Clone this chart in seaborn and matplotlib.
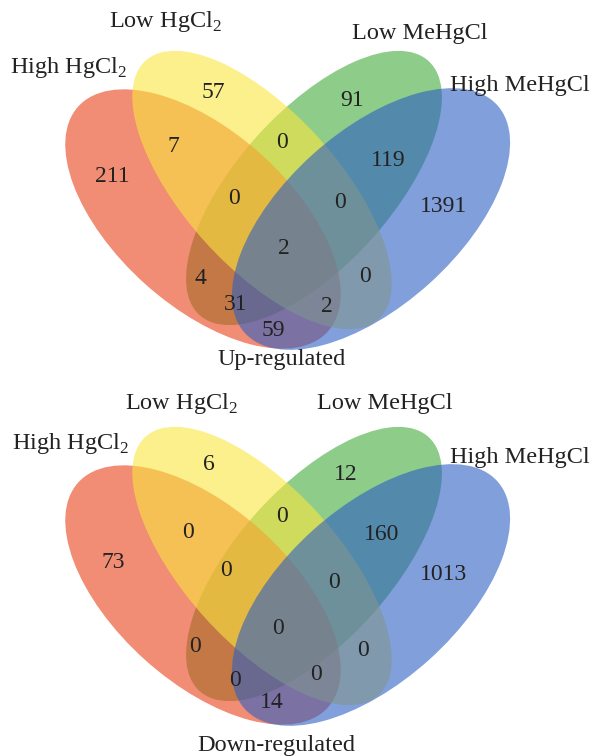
import matplotlib
matplotlib.use("Agg")
import matplotlib.pyplot as plt
from matplotlib.patches import Ellipse
import seaborn as sns

# sets: A = High HgCl2, B = Low HgCl2, C = Low MeHgCl, D = High MeHgCl
set_names = ["High HgCl$_2$", "Low HgCl$_2$", "Low MeHgCl", "High MeHgCl"]
regions = ["A", "B", "C", "D", "AB", "BC", "CD", "ABC", "BCD", "ABCD",
           "AC", "BD", "ACD", "ABD", "AD"]

up_counts = [211, 57, 91, 1391, 7, 0, 119, 0, 0, 2, 4, 0, 31, 2, 59]
down_counts = [73, 6, 12, 1013, 0, 0, 160, 0, 0, 0, 0, 0, 0, 0, 14]

# ---- layout (panel pixel coords, y down) ----
# drawn in this order: green, red, yellow, blue
ellipses = {  # cx, cy, width, height, angle
    "C": (314, 188, 342, 154, -48),
    "A": (203, 219, 336, 174, 42),
    "B": (262, 190, 348, 154, 48),
    "D": (371, 219, 340, 174, -42),
}
colors = {"A": "#e9401a", "B": "#fae63f", "C": "#43aa3c", "D": "#2d5fc3"}

up_pos = {"A": (112, 177), "B": (213, 92), "C": (352, 100), "D": (444, 207),
          "AB": (173, 147), "BC": (282, 143), "CD": (388, 160),
          "ABC": (234, 198), "BCD": (340, 202), "ABCD": (284, 248),
          "AC": (200, 278), "BD": (365, 276), "ACD": (236, 304),
          "ABD": (327, 306), "AD": (273, 330)}
down_pos = {"A": (113, 184), "B": (209, 87), "C": (346, 97), "D": (444, 197),
            "AB": (188, 155), "BC": (282, 138), "CD": (382, 156),
            "ABC": (226, 193), "BCD": (334, 205), "ABCD": (278, 250),
            "AC": (195, 268), "BD": (363, 273), "ACD": (235, 302),
            "ABD": (316, 297), "AD": (272, 325)}

up_labels = [(68, 67), (165, 22), (420, 33), (520, 85)]
down_labels = [(70, 65), (181, 25), (385, 25), (520, 80)]

sns.set_theme(style="white")
plt.rcParams["font.family"] = ["Liberation Serif", "DejaVu Serif"]
plt.rcParams["mathtext.fontset"] = "custom"
plt.rcParams["mathtext.rm"] = "Liberation Serif"

fig = plt.figure(figsize=(5.93, 7.56), dpi=100)
ax_up = fig.add_axes([0, 0.5, 1, 0.5])
ax_down = fig.add_axes([0, 0, 1, 0.5])


def draw_venn(ax, counts, pos, label_pos, title, title_xy, dy=0):
    ax.set_xlim(0, 593)
    ax.set_ylim(378, 0)
    ax.set_aspect("equal")
    ax.axis("off")
    for key, (cx, cy, w, h, ang) in ellipses.items():
        ax.add_patch(Ellipse((cx, cy + dy), w, h, angle=ang,
                             facecolor=colors[key], edgecolor="none",
                             alpha=0.6))
    for reg, n in zip(regions, counts):
        x, y = pos[reg]
        ax.text(x, y, str(n), ha="center", va="center", fontsize=17,
                color="#222222")
    for name, (x, y) in zip(set_names, label_pos):
        ax.text(x, y, name, ha="center", va="center", fontsize=17.5,
                color="#222222")
    ax.text(title_xy[0], title_xy[1], title, ha="center", va="center",
            fontsize=17.5, color="#222222")


draw_venn(ax_up, up_counts, up_pos, up_labels, "Up-regulated", (282, 360))
draw_venn(ax_down, down_counts, down_pos, down_labels, "Down-regulated",
          (276, 367), dy=-2)

fig.savefig("out.png", dpi=100)
